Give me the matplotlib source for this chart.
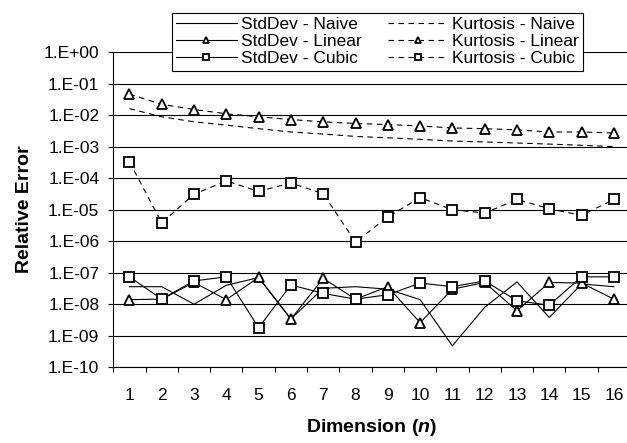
import math
import matplotlib
matplotlib.use("Agg")
import matplotlib.pyplot as plt
from matplotlib.ticker import FixedLocator, NullFormatter, FuncFormatter

plt.rcParams['font.family'] = ['Liberation Sans', 'DejaVu Sans']
plt.rcParams['mathtext.fontset'] = 'custom'
plt.rcParams['mathtext.bf'] = 'Liberation Sans:bold'
plt.rcParams['mathtext.bfit'] = 'Liberation Sans:bold:italic'
plt.rcParams['mathtext.it'] = 'Liberation Sans:italic'

# data
dims = list(range(1, 17))
std_naive = [3.6e-8, 3.6e-8, 1.0e-8, 4.0e-8, 7.0e-8, 3.4e-9, 3.2e-8, 3.6e-8,
             3.0e-8, 1.4e-8, 4.8e-10, 8.0e-9, 5.1e-8, 3.8e-9, 4.4e-8, 3.6e-8]
std_linear = [1.4e-8, 1.45e-8, 4.9e-8, 1.4e-8, 7.1e-8, 3.4e-9, 6.6e-8, 1.45e-8,
              3.6e-8, 2.6e-9, 3.0e-8, 4.9e-8, 6.2e-9, 4.9e-8, 4.7e-8, 1.45e-8]
std_cubic = [7.4e-8, 1.45e-8, 5.5e-8, 7.4e-8, 1.8e-9, 4.1e-8, 2.2e-8, 1.45e-8,
             2.0e-8, 4.7e-8, 3.6e-8, 5.5e-8, 1.29e-8, 9.3e-9, 7.4e-8, 7.4e-8]
kurt_naive = [1.6e-2, 8.8e-3, 6.1e-3, 4.8e-3, 3.7e-3, 2.9e-3, 2.5e-3, 2.1e-3,
              1.9e-3, 1.7e-3, 1.5e-3, 1.4e-3, 1.3e-3, 1.2e-3, 1.1e-3, 1.0e-3]
kurt_linear = [4.6e-2, 2.2e-2, 1.5e-2, 1.1e-2, 8.8e-3, 7.2e-3, 6.1e-3, 5.4e-3,
               5.0e-3, 4.5e-3, 3.9e-3, 3.7e-3, 3.4e-3, 2.9e-3, 2.9e-3, 2.7e-3]
kurt_cubic = [3.3e-4, 3.8e-6, 3.1e-5, 8.1e-5, 3.8e-5, 7.0e-5, 3.2e-5, 9.4e-7,
              5.9e-6, 2.4e-5, 1.0e-5, 7.8e-6, 2.1e-5, 1.07e-5, 6.6e-6, 2.1e-5]
exponents = list(range(-10, 1))

fig = plt.figure(figsize=(6.27, 4.43), dpi=100)
ax = fig.add_axes([113.3 / 627, 75.7 / 443, (630 - 113.3) / 627, (367.3 - 52) / 443])

lw = 0.8
mk = dict(markerfacecolor='white', markeredgecolor='black', markeredgewidth=1.3)
dash = (0, (5, 4))

ax.plot(dims, std_naive, color='black', lw=lw, label='StdDev - Naive')
ax.plot(dims, std_linear, color='black', lw=lw, marker='^', markersize=7, label='StdDev - Linear', **mk)
ax.plot(dims, std_cubic, color='black', lw=lw, marker='s', markersize=6.5, label='StdDev - Cubic', **mk)
ax.plot(dims, kurt_naive, color='black', lw=lw, ls=dash, label='Kurtosis - Naive')
ax.plot(dims, kurt_linear, color='black', lw=lw, ls=dash, marker='^', markersize=7, label='Kurtosis - Linear', **mk)
ax.plot(dims, kurt_cubic, color='black', lw=lw, ls=dash, marker='s', markersize=6.5, label='Kurtosis - Cubic', **mk)

ax.set_yscale('log')
ax.set_ylim(1e-10, 1)
ax.set_xlim(0.5, 16.5)

ax.yaxis.set_major_locator(FixedLocator([10.0 ** e for e in exponents]))
ax.yaxis.set_minor_locator(FixedLocator([]))
ax.yaxis.set_major_formatter(FuncFormatter(lambda v, p: "1.E%+03d" % round(math.log10(v))))
ax.yaxis.grid(True, which='major', color='black', lw=0.8)
ax.set_axisbelow(True)

# category-style x axis: ticks between, labels centered
ax.xaxis.set_major_locator(FixedLocator([d - 0.5 for d in dims] + [16.5]))
ax.xaxis.set_major_formatter(NullFormatter())
ax.xaxis.set_minor_locator(FixedLocator(dims))
ax.set_xticklabels([str(d) for d in dims], minor=True)
ax.tick_params(axis='x', which='major', direction='out', length=3.6, width=0.8)
ax.tick_params(axis='x', which='minor', length=0, pad=15, labelsize=12.5)
ax.tick_params(axis='y', which='major', direction='out', length=3.6, width=0.8, pad=6.5, labelsize=12.5)

for s in ['top', 'right']:
    ax.spines[s].set_visible(False)
ax.spines['left'].set_linewidth(0.8)
ax.spines['bottom'].set_linewidth(0.8)

ax.set_xlabel(r'Dimension ($\mathbfit{n}$)', fontsize=14, fontweight='bold', labelpad=10)
ax.set_ylabel('Relative Error', fontsize=14, fontweight='bold', labelpad=8)

handles, labels = ax.get_legend_handles_labels()
leg = fig.legend(handles, labels, ncol=2, loc='upper left',
                 bbox_to_anchor=(171.7 / 627, 1 - 13 / 443), fontsize=12.5,
                 frameon=True, fancybox=False, edgecolor='black', framealpha=1,
                 handlelength=3.5, handletextpad=0.23, columnspacing=1.5,
                 labelspacing=0.1, borderpad=0.25, borderaxespad=0,
                 markerscale=0.7)
leg.get_frame().set_linewidth(0.8)

fig.savefig('out.png', dpi=100)
